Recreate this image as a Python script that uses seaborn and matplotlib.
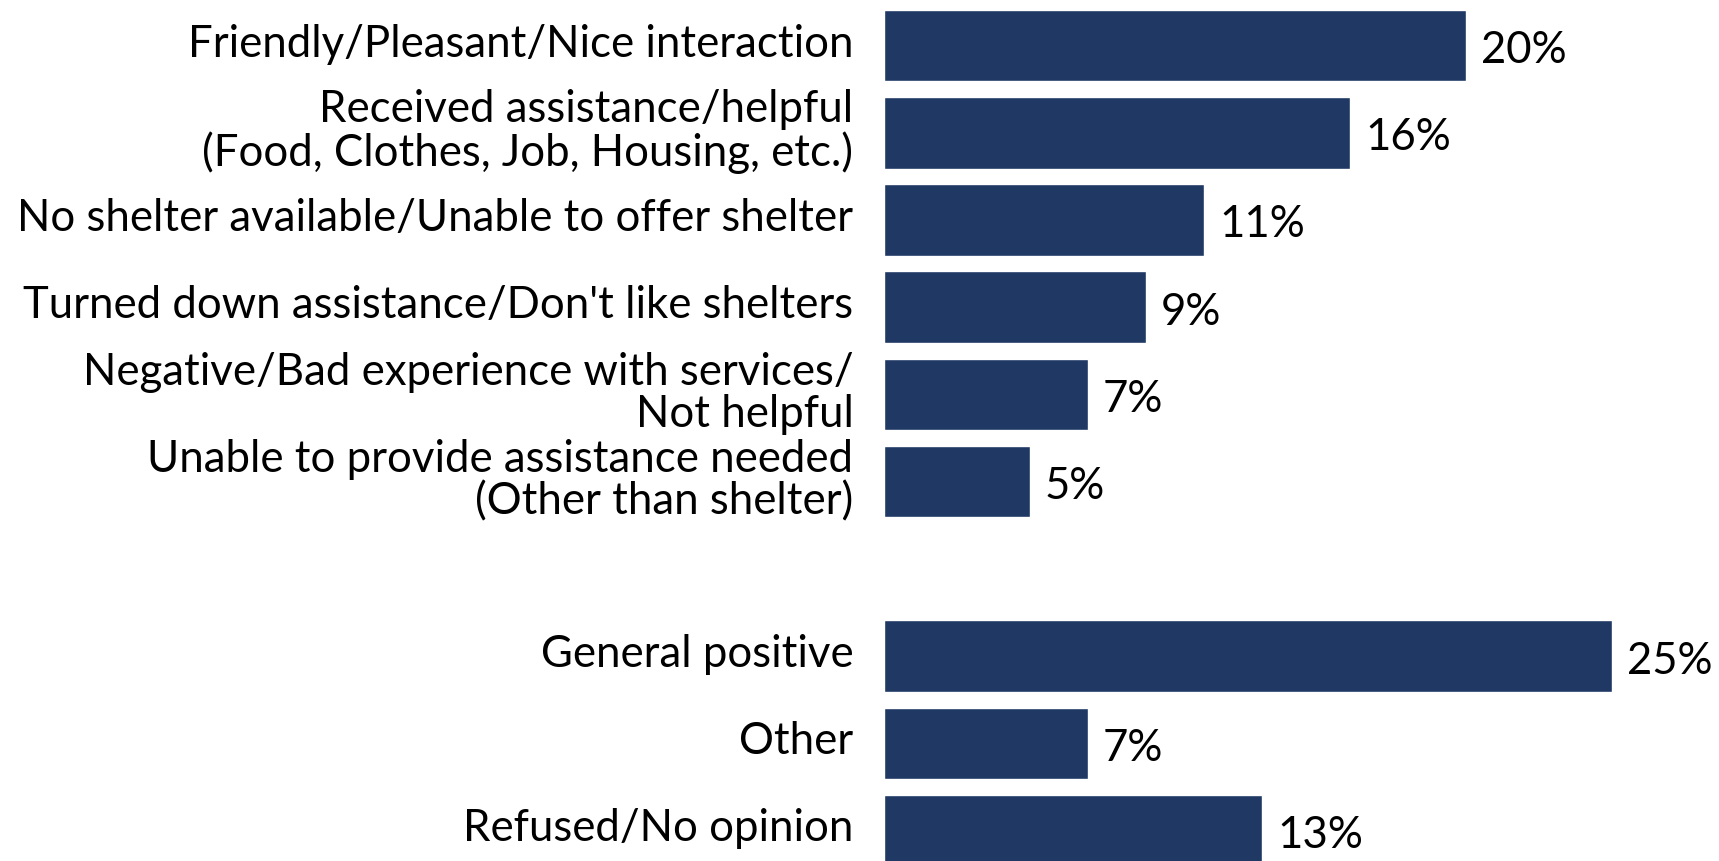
import matplotlib
matplotlib.use("Agg")
import matplotlib.pyplot as plt
import matplotlib.transforms as mtransforms
import seaborn as sns
import pandas as pd

categories = [
    "Friendly/Pleasant/Nice interaction",
    "Received assistance/helpful\n(Food, Clothes, Job, Housing, etc.)",
    "No shelter available/Unable to offer shelter",
    "Turned down assistance/Don't like shelters",
    "Negative/Bad experience with services/\nNot helpful",
    "Unable to provide assistance needed\n(Other than shelter)",
    "General positive",
    "Other",
    "Refused/No opinion",
]
values = [20, 16, 11, 9, 7, 5, 25, 7, 13]

df = pd.DataFrame({"category": categories, "value": values})
order = categories[:6] + [" "] + categories[6:]

sns.set_theme(style="white")
plt.rcParams["font.family"] = ["Lato", "DejaVu Sans"]

W, H = 1719, 862
fig = plt.figure(figsize=(W / 100, H / 100), dpi=100)
ax = fig.add_axes([884 / W, 0, 1 - 884 / W, 1])

sns.barplot(data=df, y="category", x="value", order=order, color="#1f3864",
            saturation=1, width=0.82, orient="h", ax=ax)

for c in ax.containers:
    for t in ax.bar_label(c, fmt="%d%%", padding=11, fontsize=31.5, color="black"):
        t.set_va("center_baseline")

ax.set_xlim(0, (W - 884) / 29.1)
ax.set_ylim(9.35, -0.534)
ax.set_xlabel("")
ax.set_ylabel("")
ax.set_xticks([])
for s in ax.spines.values():
    s.set_visible(False)
ax.tick_params(axis="y", length=0, pad=22, labelsize=31.5, labelcolor="black")
offset = mtransforms.ScaledTranslation(0, 6.5 / 100, fig.dpi_scale_trans)
for lbl in ax.get_yticklabels():
    lbl.set_linespacing(1.04)
    lbl.set_transform(lbl.get_transform() + offset)

fig.savefig("out.png", dpi=100)
